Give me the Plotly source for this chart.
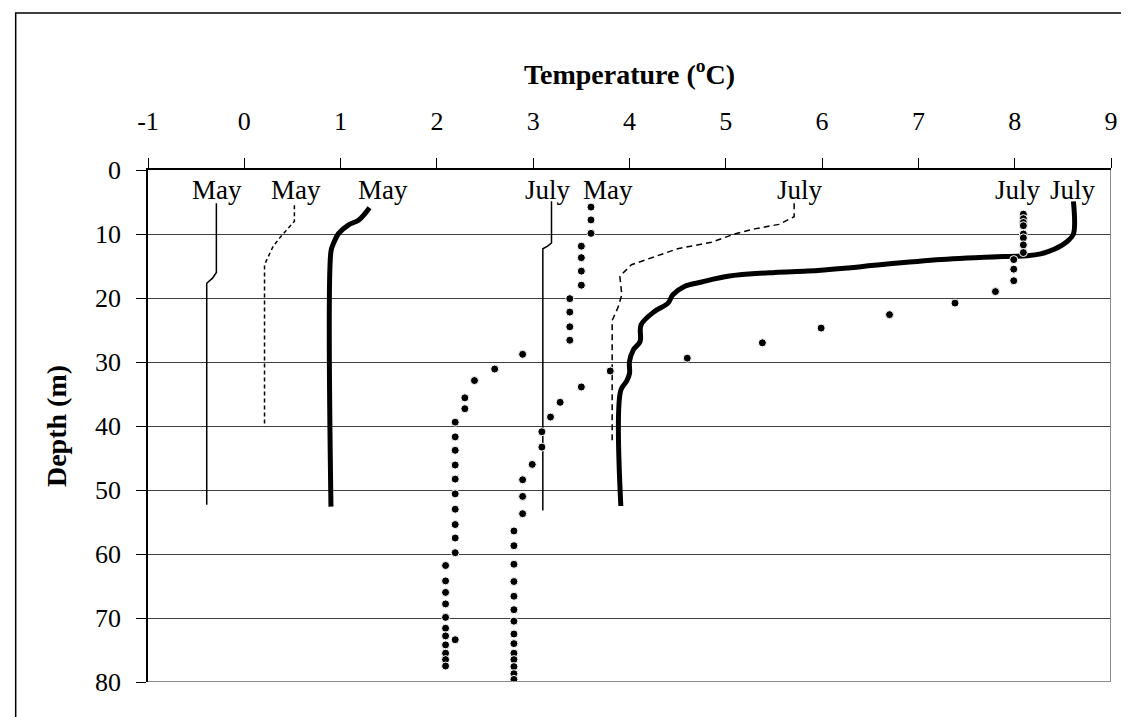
import plotly.graph_objects as go

# ---- data (temperature in deg C, depth in m) ----
may_thin_t = [-0.29, -0.29, -0.33, -0.39, -0.39]
may_thin_d = [5.2, 16.0, 16.9, 17.7, 52.3]

may_dash_t = [0.52, 0.52, 0.39, 0.30, 0.25, 0.21, 0.21]
may_dash_d = [5.5, 8.0, 10.2, 11.9, 13.5, 14.8, 40.1]

may_thick_t = [1.30, 1.19, 1.08, 0.98, 0.92, 0.90, 0.90]
may_thick_d = [5.9, 7.8, 8.6, 9.9, 11.7, 12.7, 52.6]

july_thin_t = [3.19, 3.19, 3.15, 3.10, 3.10]
july_thin_d = [4.9, 11.4, 11.9, 12.3, 53.2]

july_dash_t = [5.71, 5.71, 5.55, 5.30, 5.09, 4.85, 4.50, 4.33, 4.02, 3.90, 3.92, 3.88, 3.82, 3.82]
july_dash_d = [5.2, 7.3, 8.5, 9.2, 10.0, 11.3, 12.3, 13.2, 14.8, 16.6, 19.5, 21.5, 23.5, 42.7]

july_thick_t = [8.61, 8.61, 8.55, 8.41, 8.27, 8.13, 7.93, 7.24, 6.54, 6.27, 5.85, 5.51, 5.02,
                4.75, 4.57, 4.45, 4.40, 4.26, 4.12, 4.11, 4.04, 4.00, 4.00, 3.97, 3.91, 3.91]
july_thick_d = [4.9, 10.0, 11.1, 12.4, 13.1, 13.4, 13.5, 14.0, 14.9, 15.3, 15.8, 16.0, 16.6,
                17.5, 18.2, 19.5, 20.8, 22.1, 24.2, 26.8, 28.1, 29.9, 31.8, 33.0, 34.4, 52.5]

may_dot_t = [3.60, 3.60, 3.60, 3.50, 3.50, 3.50, 3.50, 3.38, 3.38, 3.38, 3.38, 2.89, 2.60, 2.39,
             2.29, 2.29, 2.19, 2.19, 2.19, 2.19, 2.19, 2.19, 2.19, 2.19, 2.19, 2.19, 2.19,
             2.09, 2.09, 2.09, 2.09, 2.09, 2.09, 2.09, 2.09, 2.09, 2.09, 2.09]
may_dot_d = [5.8, 7.8, 9.9, 11.9, 13.7, 15.8, 18.0, 20.1, 22.2, 24.5, 26.6, 28.8, 31.1, 32.9,
             35.6, 37.3, 39.4, 41.7, 43.8, 46.1, 48.3, 50.6, 53.0, 55.4, 57.5, 59.8, 73.4,
             61.8, 64.2, 66.0, 67.8, 69.9, 71.6, 72.8, 74.2, 75.5, 76.5, 77.5]

july_dot_t = [8.09, 8.09, 8.09, 8.09, 8.09, 8.09, 8.09, 8.09, 7.99, 7.99, 7.99, 7.80, 7.38, 6.70,
              5.99, 5.38, 4.60, 3.80, 3.50, 3.28, 3.18, 3.09, 3.09, 2.99, 2.89, 2.89, 2.89,
              2.80, 2.80, 2.80, 2.80, 2.80, 2.80, 2.80, 2.80, 2.80, 2.80, 2.80, 2.80, 2.80, 2.80]
july_dot_d = [6.9, 7.6, 8.2, 8.7, 10.0, 10.6, 11.7, 12.9, 14.0, 15.5, 17.3, 19.0, 20.8, 22.6,
              24.7, 27.0, 29.4, 31.4, 33.9, 36.3, 38.6, 40.9, 43.3, 46.0, 48.4, 51.0, 53.7,
              56.4, 58.7, 61.6, 64.3, 66.6, 68.7, 70.5, 72.5, 74.0, 75.5, 76.5, 77.6, 78.7, 79.6]

label_text = ["May", "May", "May", "July", "May", "July", "July", "July"]
label_x = [-0.285, 0.539, 1.444, 3.156, 3.775, 5.766, 8.032, 8.601]
label_y = [3.2, 3.2, 3.2, 3.2, 3.2, 3.2, 3.2, 3.2]

x_tick_vals = [-1, 0, 1, 2, 3, 4, 5, 6, 7, 8, 9]
x_tick_text = ["-1", "0", "1", "2", "3", "4", "5", "6", "7", "8", "9"]
y_tick_vals = [0, 10, 20, 30, 40, 50, 60, 70, 80]

FONT = "Liberation Serif, Times New Roman, serif"

fig = go.Figure()

def add_line(t, d, width, dash="solid", shape="linear"):
    fig.add_trace(go.Scatter(x=t, y=d, mode="lines",
                             line=dict(color="black", width=width, dash=dash, shape=shape),
                             showlegend=False, hoverinfo="skip"))

def add_dots(t, d):
    fig.add_trace(go.Scatter(x=t, y=d, mode="markers",
                             marker=dict(color="black", size=8, symbol="circle",
                                         line=dict(color="white", width=1)),
                             showlegend=False, hoverinfo="skip"))

add_line(may_thin_t, may_thin_d, 1.5)
add_line(may_dash_t, may_dash_d, 1.5, dash="4px,3px")
add_line(may_thick_t, may_thick_d, 5, shape="spline")
add_line(july_thin_t, july_thin_d, 1.5)
add_line(july_dash_t, july_dash_d, 1.5, dash="6px,4px")
add_line(july_thick_t, july_thick_d, 5, shape="spline")
add_dots(may_dot_t, may_dot_d)
add_dots(july_dot_t, july_dot_d)

for txt, x, y in zip(label_text, label_x, label_y):
    fig.add_annotation(x=x, y=y, text=txt, showarrow=False, xanchor="center", yanchor="middle",
                       font=dict(family=FONT, size=27, color="black"))

# plot-area right/bottom border (gray)
fig.add_shape(type="line", x0=9, x1=9, y0=0, y1=80, xref="x", yref="y",
              line=dict(color="#8c8c8c", width=2))
fig.add_shape(type="line", x0=-1, x1=9, y0=80, y1=80, xref="x", yref="y",
              line=dict(color="#8c8c8c", width=2))
# outer chart border (extends beyond image on right/bottom)
fig.add_shape(type="rect", xref="paper", yref="paper",
              x0=-0.1374, x1=1.1, y0=-0.2, y1=1.3066,
              line=dict(color="black", width=1.5), fillcolor="rgba(0,0,0,0)")

fig.update_layout(
    width=1129, height=717,
    margin=dict(l=139.5, r=25.5, t=162, b=43, pad=0),
    paper_bgcolor="white", plot_bgcolor="white",
    font=dict(family=FONT, size=26, color="black"),
    xaxis=dict(side="top", range=[-1, 9], tickmode="array", tickvals=x_tick_vals,
               ticktext=x_tick_text, showgrid=False,
               showline=True, linecolor="black", linewidth=1.5, zeroline=False,
               ticks="outside", ticklen=10, tickcolor="black", tickwidth=1,
               tickfont=dict(family=FONT, size=26, color="black"), ticklabelstandoff=18,
               title=dict(text="<b>Temperature (<sup>o</sup>C)</b>", standoff=14,
                          font=dict(family=FONT, size=28, color="black"))),
    yaxis=dict(range=[80, 0], tickmode="array", tickvals=y_tick_vals, showgrid=True,
               gridcolor="#404040", gridwidth=1,
               showline=True, linecolor="black", linewidth=1.5, zeroline=False,
               ticks="outside", ticklen=10, tickcolor="black", tickwidth=1,
               tickfont=dict(family=FONT, size=26, color="black"), ticklabelstandoff=10,
               title=dict(text="<b>Depth (m)</b>", standoff=20,
                          font=dict(family=FONT, size=28, color="black"))),
)

fig.write_html("out.html")
